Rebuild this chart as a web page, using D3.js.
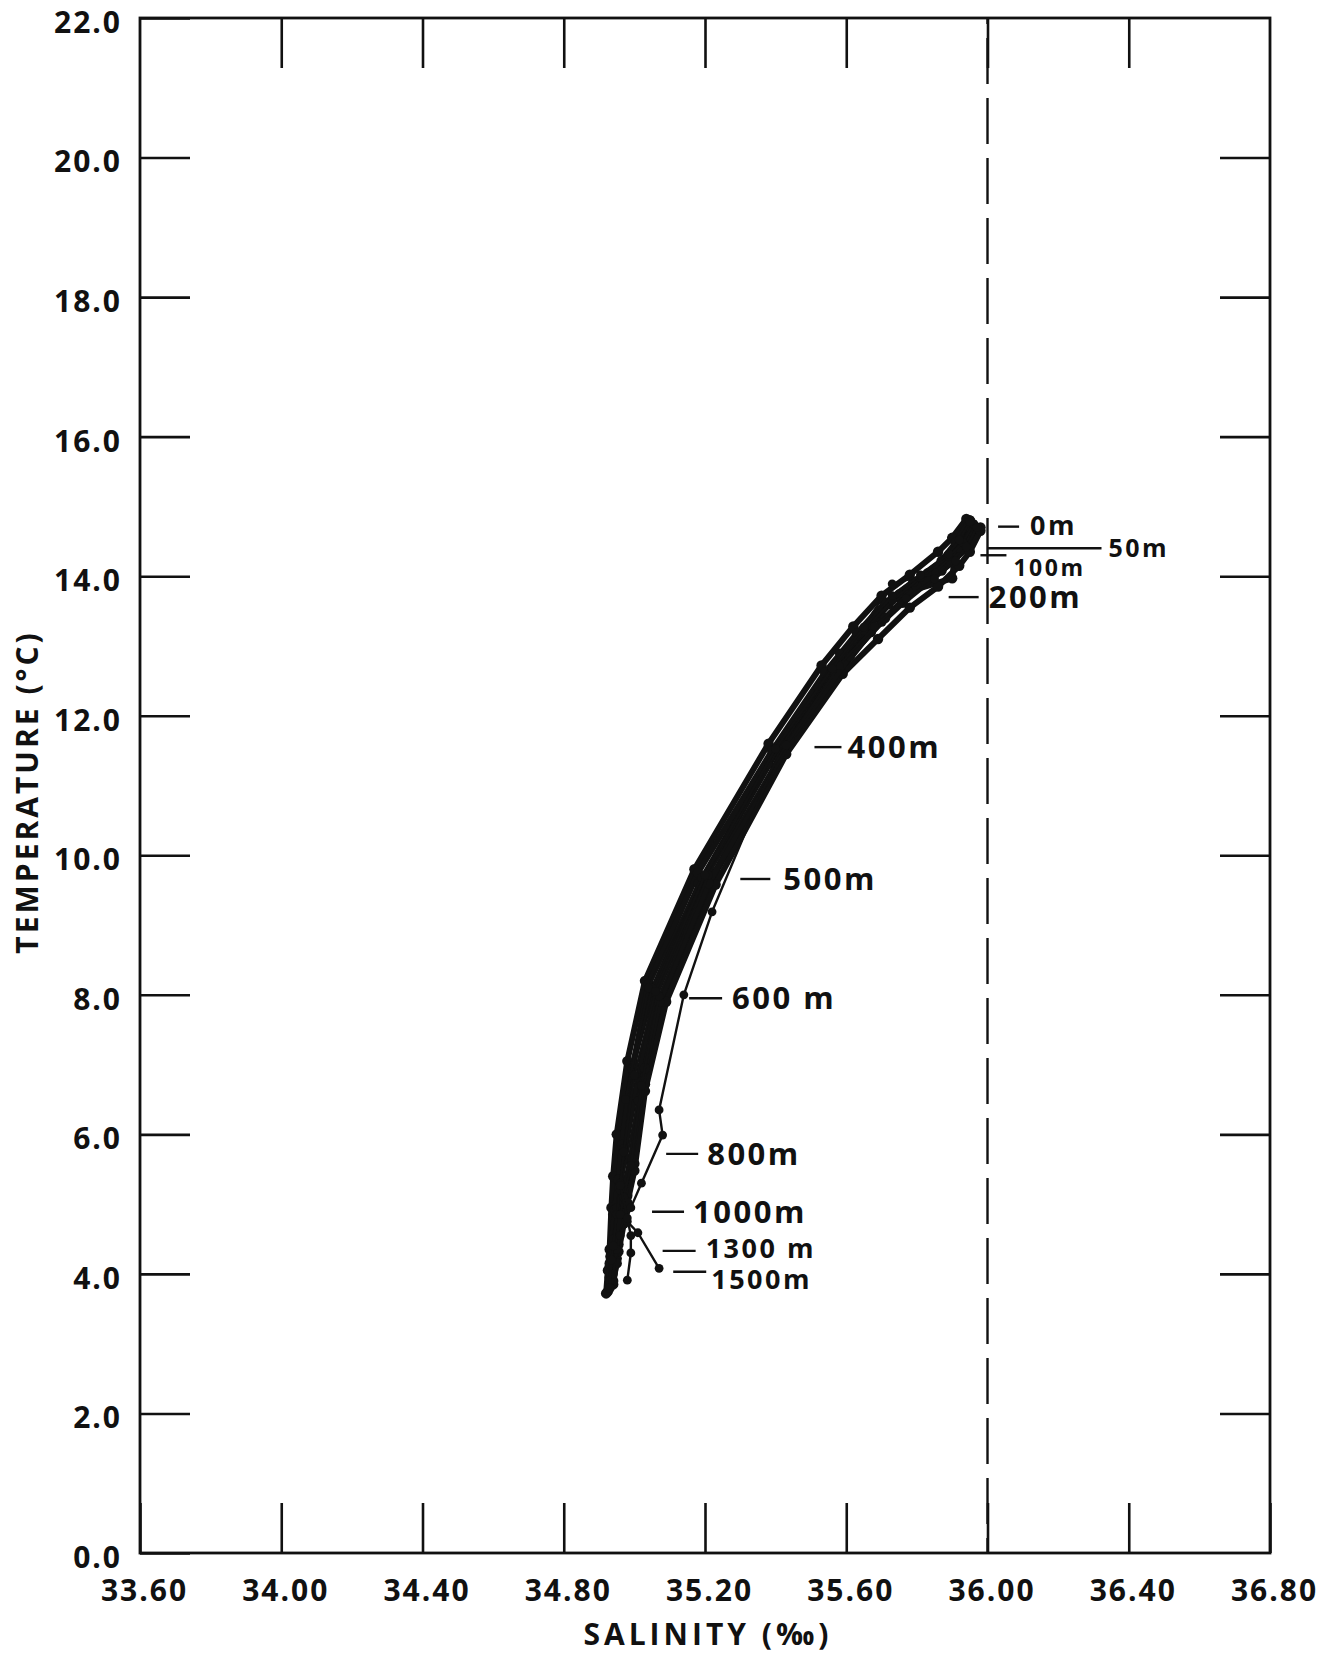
<!DOCTYPE html>
<html><head><meta charset="utf-8">
<script src="https://cdn.jsdelivr.net/npm/d3@7"></script>
<style>
body{margin:0;background:#fff;}
text{font-family:"Open Sans",sans-serif;font-weight:700;fill:#111;}
</style>
</head><body>
<svg id="chart" width="1335" height="1655"></svg>
<script>
// ---------- DATA ----------
const depths = [0, 50, 100, 150, 200, 250, 300, 400, 500, 600, 700, 800, 900, 1000, 1200, 1300, 1500];

const sal1  = [35.96,35.93,35.89,35.82,35.74,35.66,35.57,35.41,35.20,35.06,35.01,34.97,34.96,34.95,34.94,34.935,34.93];
const temp1 = [14.72,14.45,14.30,14.00,13.70,13.25,12.70,11.55,9.70,8.00,6.80,5.70,5.25,4.90,4.45,4.30,3.95];

const sal2  = [35.95,35.92,35.88,35.80,35.72,35.64,35.55,35.40,35.19,35.05,34.99,34.96,34.95,34.94,34.935,34.93,34.925];
const temp2 = [14.80,14.50,14.25,13.90,13.60,13.15,12.60,11.50,9.65,8.05,6.90,5.90,5.30,4.85,4.30,4.10,3.75];

const sal3  = [35.97,35.94,35.90,35.84,35.76,35.67,35.58,35.42,35.22,35.08,35.02,34.99,34.97,34.96,34.95,34.94,34.935];
const temp3 = [14.68,14.40,14.20,13.95,13.62,13.20,12.62,11.45,9.68,7.95,6.75,5.60,5.15,4.80,4.40,4.20,3.85];

const sal4  = [35.96,35.92,35.85,35.73,35.62,35.58,35.52,35.38,35.18,35.05,35.00,34.97,34.96,34.95,34.94,34.93,34.93];
const temp4 = [14.75,14.40,14.05,13.89,13.07,12.90,12.40,11.30,9.60,8.10,7.00,5.80,5.30,4.95,4.50,4.25,3.90];

const sal5  = [35.95,35.93,35.90,35.83,35.75,35.67,35.57,35.42,35.22,35.14,35.07,35.08,35.02,34.99,34.96,34.95,34.94];
const temp5 = [14.70,14.50,14.35,14.05,13.75,13.30,12.75,11.60,9.19,8.00,6.35,5.99,5.30,4.95,4.55,4.35,4.00];

const sal6  = [35.96,35.93,35.89,35.81,35.73,35.65,35.56,35.40,35.19,35.04,34.975,35.01,34.96,34.95,34.94,34.935,34.93];
const temp6 = [14.75,14.48,14.28,13.98,13.65,13.22,12.65,11.52,9.68,8.10,6.50,6.48,5.20,4.85,4.40,4.20,3.80];

const sal7  = [35.97,35.94,35.91,35.85,35.77,35.68,35.58,35.43,35.21,35.07,35.02,34.99,34.97,34.96,34.98,35.01,35.07];
const temp7 = [14.70,14.42,14.22,13.96,13.68,13.28,12.72,11.58,9.72,7.98,6.70,5.55,5.10,4.85,4.75,4.59,4.08];

const sal8  = [35.95,35.92,35.89,35.81,35.73,35.65,35.56,35.40,35.20,35.06,35.00,34.97,34.96,34.98,34.99,34.99,34.98];
const temp8 = [14.78,14.52,14.32,14.02,13.72,13.27,12.68,11.53,9.72,8.05,6.85,5.75,5.27,4.80,4.55,4.30,3.91];

const sal9  = [35.98,35.95,35.91,35.90,35.79,35.70,35.60,35.44,35.23,35.09,35.03,35.00,34.98,34.97,34.955,34.95,34.94];
const temp9 = [14.70,14.60,14.40,13.97,13.80,13.35,12.80,11.62,9.75,8.02,6.72,5.58,5.12,4.78,4.42,4.22,3.85];

const sal10  = [35.94,35.90,35.86,35.78,35.70,35.62,35.53,35.38,35.17,35.03,34.98,34.95,34.94,34.935,34.93,34.925,34.92];
const temp10 = [14.82,14.55,14.35,14.02,13.72,13.28,12.72,11.60,9.80,8.20,7.05,6.00,5.40,4.95,4.35,4.05,3.72];

const sal11  = [35.98,35.95,35.92,35.86,35.78,35.69,35.59,35.43,35.23,35.09,35.03,35.00,34.98,34.97,34.955,34.95,34.94];
const temp11 = [14.65,14.35,14.15,13.85,13.55,13.10,12.60,11.45,9.58,7.90,6.62,5.48,5.02,4.72,4.32,4.15,3.90];

const sal12  = [35.96,35.94,35.91,35.87,35.80,35.71,35.61,35.44,35.21,35.07,35.03,34.99,34.97,34.96,34.945,34.94,34.935];
const temp12 = [14.74,14.52,14.30,14.08,13.85,13.40,12.85,11.65,9.60,7.90,6.95,5.65,5.20,4.88,4.50,4.28,3.92];

const sal13  = [35.95,35.91,35.87,35.79,35.71,35.63,35.54,35.39,35.18,35.04,34.995,34.965,34.955,34.945,34.935,34.93,34.93];
const temp13 = [14.80,14.48,14.22,13.92,13.62,13.18,12.62,11.50,9.75,8.15,6.95,5.85,5.35,4.92,4.38,4.15,3.80];

const xTickValues = [33.60, 34.00, 34.40, 34.80, 35.20, 35.60, 36.00, 36.40, 36.80];
const yTickValues = [0, 2, 4, 6, 8, 10, 12, 14, 16, 18, 20, 22];
const referenceSalinity = 36.00;

const labelText = ["0m", "50m", "100m", "200m", "400m", "500m", "600 m", "800m", "1000m", "1300 m", "1500m"];
const labelSal  = [36.03, 36.00, 35.98, 35.89, 35.51, 35.30, 35.155, 35.09, 35.05, 35.08, 35.11];
const labelTemp = [14.71, 14.40, 14.30, 13.70, 11.55, 9.66, 7.95, 5.72, 4.89, 4.33, 4.03];

// ---------- LAYOUT ----------
const L = 140, R = 1270, T = 18, B = 1553;
const svg = d3.select("#chart");
const x = d3.scaleLinear().domain([33.6, 36.8]).range([L, R]);
const y = d3.scaleLinear().domain([0, 22]).range([B, T]);

const stations = [[sal1,temp1],[sal2,temp2],[sal3,temp3],[sal4,temp4],[sal5,temp5],
                  [sal6,temp6],[sal7,temp7],[sal8,temp8],[sal9,temp9],[sal10,temp10],
                  [sal11,temp11],[sal12,temp12],[sal13,temp13]];
const thinStations = new Set([3,4,5,6,7]);   // plotted with the fine pen

// axes (ticks pointing inward)
const tickLen = 50;
const gB = svg.append("g").attr("transform", `translate(0,${B})`)
  .call(d3.axisBottom(x).tickValues(xTickValues).tickFormat(d3.format(".2f"))
        .tickSizeInner(-tickLen).tickSizeOuter(0).tickPadding(27));
const gT = svg.append("g").attr("transform", `translate(0,${T})`)
  .call(d3.axisTop(x).tickValues(xTickValues.slice(1,-1)).tickFormat("")
        .tickSizeInner(-tickLen).tickSizeOuter(0));
const gL = svg.append("g").attr("transform", `translate(${L},0)`)
  .call(d3.axisLeft(y).tickValues(yTickValues).tickFormat(d3.format(".1f"))
        .tickSizeInner(-tickLen).tickSizeOuter(0).tickPadding(18));
const gR = svg.append("g").attr("transform", `translate(${R},0)`)
  .call(d3.axisRight(y).tickValues(yTickValues.slice(1,-1)).tickFormat("")
        .tickSizeInner(-tickLen).tickSizeOuter(0));
[gB,gT,gL,gR].forEach(g=>{
  g.select(".domain").remove();
  g.selectAll(".tick line").attr("stroke","#111").attr("stroke-width",2.6);
  g.selectAll(".tick text").style("font-size","30px").attr("fill","#111")
    .style("font-family","'Open Sans',sans-serif").style("font-weight","700").style("letter-spacing","2px");
});
gB.selectAll(".tick text").attr("dy","0.71em").attr("dx","4px");
gL.selectAll(".tick text").attr("dy","0.48em");

// frame
svg.append("rect").attr("x",L).attr("y",T).attr("width",R-L).attr("height",B-T)
  .attr("fill","none").attr("stroke","#111").attr("stroke-width",2.8);

// dashed reference line at 36.00
svg.append("line").attr("x1",x(referenceSalinity)).attr("x2",x(referenceSalinity))
  .attr("y1",T).attr("y2",B).attr("stroke","#111").attr("stroke-width",2.4)
  .attr("stroke-dasharray","46,14").attr("stroke-dashoffset",-20);

// axis titles
svg.append("text").attr("x",(L+R)/2 + 3).attr("y",1645).attr("text-anchor","middle")
  .style("font-size","30px").style("letter-spacing","4px").text("SALINITY (‰)");
svg.append("text").attr("transform",`translate(38,${792}) rotate(-90)`).attr("text-anchor","middle")
  .style("font-size","30px").style("letter-spacing","3px").text("TEMPERATURE (°C)");

// station curves
const line = d3.line();
const gS = svg.append("g");
const order = d3.range(stations.length).sort((a,b)=>thinStations.has(a)-thinStations.has(b));
order.forEach(k=>{
  const [s,t] = stations[k];
  const thin = thinStations.has(k);
  const pts = depths.map((d,i)=>[x(s[i]), y(t[i])]);
  gS.append("path").attr("d",line(pts)).attr("fill","none").attr("stroke","#111")
    .attr("stroke-width",thin ? 2.4 : 6).attr("stroke-linejoin","round").attr("stroke-linecap","round");
  gS.selectAll(null).data(pts).enter().append("circle")
    .attr("cx",p=>p[0]).attr("cy",p=>p[1]).attr("r",thin ? 4.4 : 5.2).attr("fill","#111");
});

// depth labels with leader lines
const leadLen = [21,114,26,30,27,30,33,32,32,33,33];
const leadGap = [11,7,7,10,6,13,10,9,9,10,5];
const fsz = [27,25,23,31,31,31,31,31,31,27,27];
const textDy = [-1,0,12,0,0,0,0,0,0,-3,7];
labelText.forEach((lab,i)=>{
  const x0 = x(labelSal[i]), y0 = y(labelTemp[i]);
  svg.append("line").attr("x1",x0).attr("x2",x0+leadLen[i]).attr("y1",y0).attr("y2",y0)
    .attr("stroke","#111").attr("stroke-width",2.4);
  svg.append("text").attr("x",x0+leadLen[i]+leadGap[i]).attr("y",y0+textDy[i])
    .attr("dy","0.36em").style("font-size",fsz[i]+"px").style("letter-spacing","2.5px").text(lab);
});
</script>
</body></html>
